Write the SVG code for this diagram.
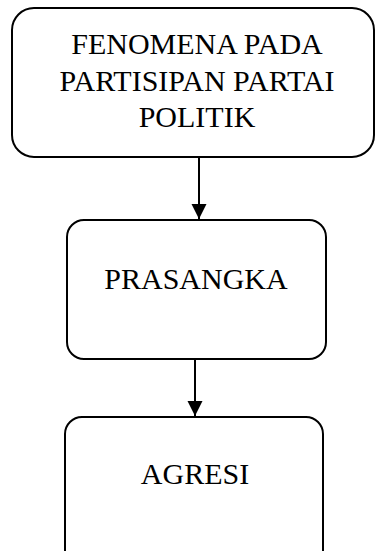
<svg xmlns="http://www.w3.org/2000/svg" width="375" height="551" viewBox="0 0 375 551">
<style>
.box{fill:#fff;stroke:#000;stroke-width:2}
.t{font-family:"Liberation Serif","Times New Roman",serif;font-size:30px;fill:#000;text-anchor:middle}
.c{stroke:#000;stroke-width:2;fill:none}
</style>
<defs>
<marker id="ah" markerUnits="userSpaceOnUse" markerWidth="16" markerHeight="16" refX="15" refY="7.5" orient="auto">
<path d="M0,0 L15,7.5 L0,15 Z" fill="#000"/>
</marker>
</defs>
<rect width="375" height="551" fill="#fff"/>
<g id="n1">
<rect class="box" x="12" y="8" width="362" height="149" rx="22"/>
<text class="t" x="197" y="54">FENOMENA PADA</text>
<text class="t" x="197" y="90.5">PARTISIPAN PARTAI</text>
<text class="t" x="197" y="127">POLITIK</text>
</g>
<g id="n2">
<rect class="box" x="67" y="220" width="259" height="139" rx="17"/>
<text class="t" x="196" y="289">PRASANGKA</text>
</g>
<g id="n3">
<rect class="box" x="65" y="417" width="258" height="150" rx="17"/>
<text class="t" x="195" y="484">AGRESI</text>
</g>
<g id="connectors">
<line class="c" x1="199" y1="157" x2="199" y2="219" marker-end="url(#ah)"/>
<line class="c" x1="195" y1="359" x2="195" y2="416" marker-end="url(#ah)"/>
</g>
</svg>
